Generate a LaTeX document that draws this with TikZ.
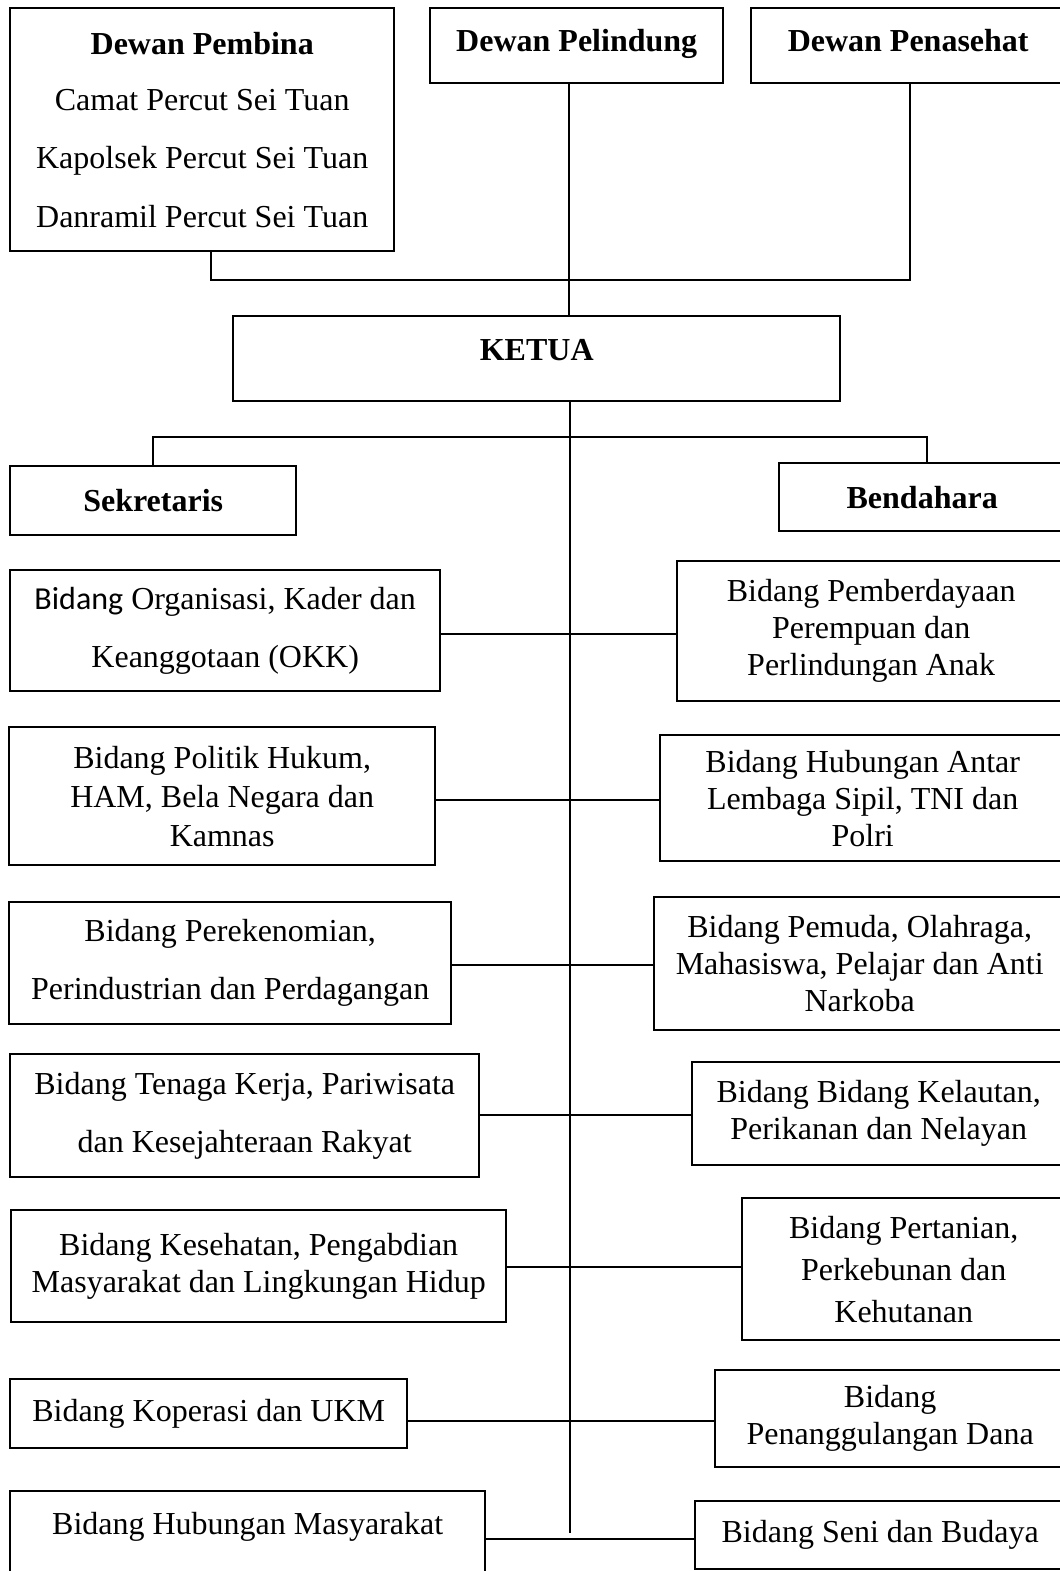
\documentclass[tikz,border=0pt]{standalone}
\usepackage{fontspec}
\setmainfont{Liberation Serif}
\newfontfamily\calibri{Carlito}
\newcommand{\unitpx}{0.375pt}

\begin{document}
\begin{tikzpicture}[x=0.375pt,y=-0.375pt,
unit/.style={
	% The shape:
	rectangle,draw,line width=0.9pt,inner sep=0pt,
	% Font
	align=center,font=\fontsize{12}{13.9}\selectfont},
head/.style={unit,font=\bfseries\fontsize{12}{13.9}\selectfont},
box/.style 2 args={anchor=north west,minimum width=#1*\unitpx,minimum height=#2*\unitpx},
link/.style={line width=0.9pt}]

\useasboundingbox (0,0) rectangle (1060,1571);

%Dewan
\node (pembina) [unit,box={384}{243}] at (9,7) {\textbf{Dewan Pembina}\\[7.3pt]
			Camat Percut Sei Tuan\\[7.9pt]
			Kapolsek Percut Sei Tuan\\[7.9pt]
			Danramil Percut Sei Tuan};
\node (pelindung) [head,box={293}{75},text depth=4pt] at (429,7) {Dewan Pelindung};
\node (penasehat) [head,box={314}{75},text depth=4pt] at (750,7) {Dewan Penasehat};

%Pimpinan
\node (ketua) [head,box={607}{85},text depth=6.8pt] at (232,315) {KETUA};
\node (sekretaris) [head,box={286}{69}] at (9,465) {Sekretaris};
\node (bendahara) [head,box={286}{68}] at (778,462) {Bendahara};

%Bidang kiri
\node (okk) [unit,box={430}{121}] at (9,569) {{\calibri Bidang} Organisasi, Kader dan\\[8pt]
			Keanggotaan (OKK)};
\node (politik) [unit,box={426}{138}] at (8,726) {Bidang Politik Hukum,\\[0.7pt]
			HAM, Bela Negara dan\\[0.7pt] Kamnas};
\node (ekonomi) [unit,box={442}{122}] at (8,901) {Bidang Perekenomian,\\[7.8pt]
			Perindustrian dan Perdagangan};
\node (tenaga) [unit,box={469}{123}] at (9,1053) {Bidang Tenaga Kerja, Pariwisata\\[7.8pt]
			dan Kesejahteraan Rakyat};
\node (kesehatan) [unit,box={495}{112}] at (10,1209) {Bidang Kesehatan, Pengabdian\\
			Masyarakat dan Lingkungan Hidup};
\node (koperasi) [unit,box={397}{69}] at (9,1378) {Bidang Koperasi dan UKM};
\node (humas) [unit,box={475}{84},text depth=7.5pt] at (9,1490) {Bidang Hubungan Masyarakat};

%Bidang kanan
\node (perempuan) [unit,box={388}{140}] at (676,560) {Bidang Pemberdayaan\\
			Perempuan dan\\ Perlindungan Anak};
\node (antar) [unit,box={405}{126}] at (659,734) {Bidang Hubungan Antar\\
			Lembaga Sipil, TNI dan\\ Polri};
\node (pemuda) [unit,box={411}{133}] at (653,896) {Bidang Pemuda, Olahraga,\\
			Mahasiswa, Pelajar dan Anti\\ Narkoba};
\node (kelautan) [unit,box={373}{103}] at (691,1061) {Bidang Bidang Kelautan,\\
			Perikanan dan Nelayan};
\node (pertanian) [unit,box={323}{142}] at (741,1197) {Bidang Pertanian,\\[1.8pt]
			Perkebunan dan\\[1.8pt] Kehutanan};
\node (dana) [unit,box={350}{97}] at (714,1369) {Bidang\\ Penanggulangan Dana};
\node (seni) [unit,box={370}{68}] at (694,1500) {Bidang Seni dan Budaya};

% junctions on the spine
\coordinate (spine) at (570,0);
\coordinate (dj) at (569,280);
\coordinate (sb) at (570,437);
\coordinate (spineend) at (570,1533);
\coordinate (r1) at (570,634);
\coordinate (r2) at (570,800);
\coordinate (r3) at (570,965);
\coordinate (r4) at (570,1115);
\coordinate (r5) at (570,1267);
\coordinate (r6) at (570,1421);
\coordinate (r7) at (570,1539);

\draw[link] ([xshift=9*\unitpx]pembina.south) |- (dj) -| ([xshift=2*\unitpx]penasehat.south);
\draw[link] (pelindung.south -| dj) -- (ketua.north -| dj);
\draw[link] (ketua.south -| spine) -- (spineend);
\draw[link] (sekretaris.north) |- (sb) -| ([xshift=5*\unitpx]bendahara.north);

\draw[link] (okk.east |- r1) -- (perempuan.west |- r1);
\draw[link] (politik.east |- r2) -- (antar.west |- r2);
\draw[link] (ekonomi.east |- r3) -- (pemuda.west |- r3);
\draw[link] (tenaga.east |- r4) -- (kelautan.west |- r4);
\draw[link] (kesehatan.east |- r5) -- (pertanian.west |- r5);
\draw[link] (koperasi.east |- r6) -- (dana.west |- r6);
\draw[link] (humas.east |- r7) -- (seni.west |- r7);

\end{tikzpicture}
\end{document}
